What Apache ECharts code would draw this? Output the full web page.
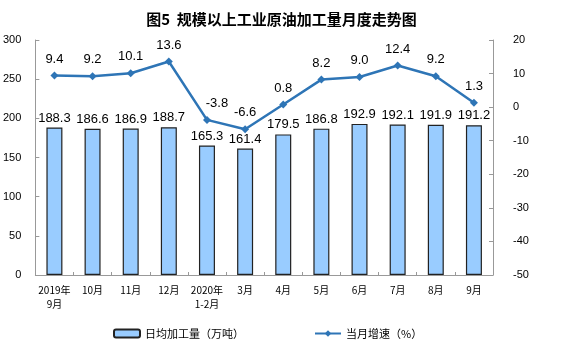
<!DOCTYPE html>
<html><head><meta charset="utf-8">
<script src="https://cdn.jsdelivr.net/npm/echarts@6/dist/echarts.min.js"></script>
<style>html,body{margin:0;padding:0;background:#fff}#c{width:563px;height:362px}</style>
</head><body><div id="c"></div>
<script>
const categories = ["2019年\n9月","10月","11月","12月","2020年\n1-2月","3月","4月","5月","6月","7月","8月","9月"];
const dailyOutput = [188.3,186.6,186.9,188.7,165.3,161.4,179.5,186.8,192.9,192.1,191.9,191.2];
const growthRate = [9.4,9.2,10.1,13.6,-3.8,-6.6,0.8,8.2,9.0,12.4,9.2,1.3];
const leftTicks = [0,300,50];
const rightTicks = [-50,20,10];

const chart = echarts.init(document.getElementById('c'));
const font = '"Noto Sans CJK SC", sans-serif';
const numFont = '"Liberation Sans", Arial, sans-serif';
const lineData = growthRate.map((v,i)=> i===4 ? {value:v,label:{offset:[10,0]}} : v);
chart.setOption({
  animation:false,
  title:{text:'图5  规模以上工业原油加工量月度走势图',left:'center',top:7,
    textStyle:{fontSize:15,fontWeight:'bold',color:'#000',fontFamily:font}},
  grid:{left:33,right:70,top:40,bottom:87},
  legend:{bottom:18,left:108,itemGap:70,itemWidth:26,itemHeight:8,
    textStyle:{fontSize:11,color:'#000',fontFamily:font},
    data:[{name:'日均加工量（万吨）'},{name:'当月增速（%）'}]},
  xAxis:{type:'category',data:categories,
    axisLine:{lineStyle:{color:'#999'}},
    axisTick:{show:true,inside:true,length:3,lineStyle:{color:'#999'}},
    axisLabel:{interval:0,fontSize:10,color:'#000',fontFamily:font,margin:8,lineHeight:14}},
  yAxis:[
    {type:'value',min:leftTicks[0],max:leftTicks[1],interval:leftTicks[2],
     axisLine:{show:true,lineStyle:{color:'#999'}},
     axisTick:{show:true,inside:true,length:4,lineStyle:{color:'#999'}},
     splitLine:{show:false},
     axisLabel:{fontSize:11,color:'#000',margin:14,fontFamily:numFont}},
    {type:'value',min:rightTicks[0],max:rightTicks[1],interval:rightTicks[2],
     axisLine:{show:true,lineStyle:{color:'#999'}},
     axisTick:{show:true,inside:true,length:4,lineStyle:{color:'#999'}},
     splitLine:{show:false},
     axisLabel:{fontSize:11,color:'#000',margin:20,fontFamily:numFont}}
  ],
  series:[
    {name:'日均加工量（万吨）',type:'bar',data:dailyOutput,barWidth:16,
     itemStyle:{color:'#99CCFF',borderColor:'#222',borderWidth:1.2},
     label:{show:true,position:'top',fontSize:13,color:'#000',distance:3,fontFamily:numFont,
       formatter:p=>p.value.toFixed(1)}},
    {name:'当月增速（%）',type:'line',yAxisIndex:1,data:lineData,
     symbol:'diamond',symbolSize:8,
     lineStyle:{color:'#2E75B6',width:2.5},itemStyle:{color:'#2E75B6'},
     label:{show:true,position:'top',fontSize:13,color:'#000',distance:6,fontFamily:numFont,
       formatter:p=>p.value.toFixed(1)}}
  ]
});
</script></body></html>
